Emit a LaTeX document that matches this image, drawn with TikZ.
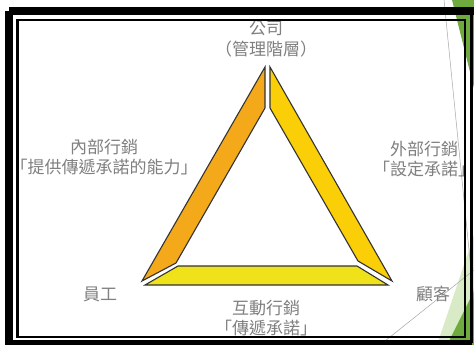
\documentclass[tikz,border=0pt]{standalone}
\usepackage{fontspec}
\newfontfamily\cjk{Noto Sans CJK TC}
\definecolor{txtgray}{HTML}{808080}
\definecolor{darkgreen}{HTML}{6FAA3F}
\definecolor{lightgreen}{HTML}{D8EAC6}
\definecolor{barorange}{HTML}{F4A91A}
\definecolor{bargold}{HTML}{FBCF07}
\definecolor{baryellow}{HTML}{EFE11A}
\tikzset{
  lbl/.style={font=\cjk\fontsize{17}{20.5}\selectfont, text=txtgray, align=center, inner sep=0pt},
  bar/.style={draw=black!80, line width=1.1pt, line join=miter},
  thinline/.style={draw=black!35, line width=0.5pt}
}
\begin{document}
\begin{tikzpicture}[x=1pt,y=-1pt]
\useasboundingbox (0,0) rectangle (474,345);
\fill[white] (0,0) rectangle (474,345);
% slide theme decorations
\fill[darkgreen] (452,0) -- (474,0) -- (474,88) -- cycle;
\fill[lightgreen] (437,345) -- (474,235) -- (474,345) -- cycle;
\fill[darkgreen] (447,345) -- (474,291) -- (474,345) -- cycle;
\coordinate (g1a) at (444,0);
\coordinate (g1b) at (474,300);
\coordinate (g2a) at (380,345);
\coordinate (g2b) at (474,270);
\draw[thinline] (g1a) -- (g1b);
\draw[thinline] (g2a) -- (g2b);
% labels
\node[lbl] (top) at (266,39) {公司\\（管理階層）};
\node[lbl] (left) at (104,157) {內部行銷\\「提供傳遞承諾的能力」};
\node[lbl] (right) at (424,159) {外部行銷\\「設定承諾」};
\node[lbl] (emp) at (100,294) {員工};
\node[lbl] (cust) at (433,294) {顧客};
\node[lbl] (bottom) at (266,318) {互動行銷\\「傳遞承諾」};
% triangle bars
\fill[barorange] (142,281) -- (265,67) -- (265,108) -- (176,263) -- cycle;
\draw[bar] (142,281) -- (265,67) -- (265,108) -- (176,263) -- cycle;
\fill[bargold] (270,67) -- (392,281) -- (358,261) -- (270,108) -- cycle;
\draw[bar] (270,67) -- (392,281) -- (358,261) -- (270,108) -- cycle;
\fill[baryellow] (145,285) -- (178,266) -- (357,266) -- (388,285) -- cycle;
\draw[bar] (145,285) -- (178,266) -- (357,266) -- (388,285) -- cycle;
% double frame
\draw[black, line width=8pt] (9,11) -- (478,11);
\draw[black, line width=8pt] (9,11) -- (9,349);
\draw[black, line width=6pt] (9,343) -- (472,343);
\draw[black, line width=3pt] (471,11) -- (471,343);
\draw[black, line width=2.6pt] (17.3,20) rectangle (465,337);
\end{tikzpicture}
\end{document}
